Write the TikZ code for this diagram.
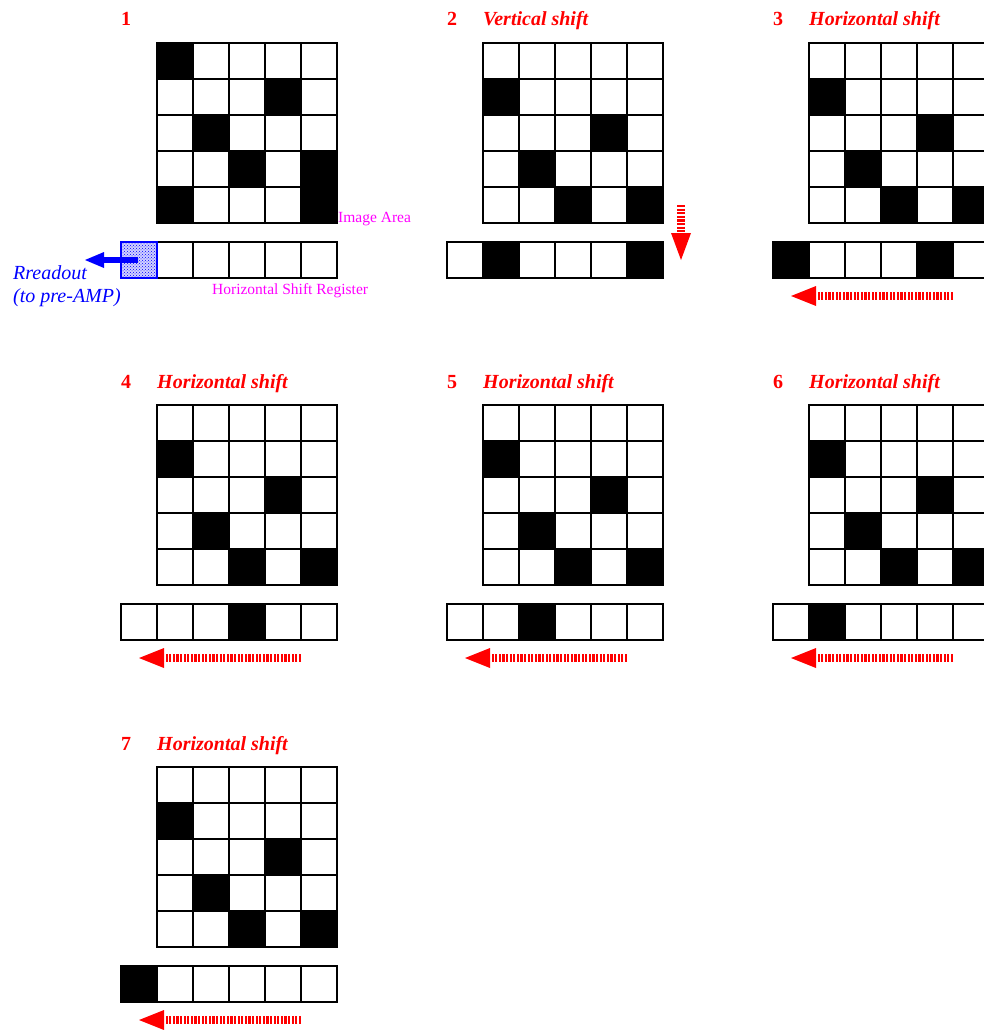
\documentclass[tikz,border=0pt]{standalone}
\usepackage{fontspec}
\setmainfont{Liberation Serif}
\usetikzlibrary{patterns,calc}
\definecolor{magpink}{RGB}{255,0,255}
\definecolor{pureblue}{RGB}{0,0,255}
\definecolor{purered}{RGB}{255,0,0}
\tikzset{
 cell/.style={draw=black,line width=1.2pt,minimum size=36pt,inner sep=0pt,outer sep=0pt,fill=white},
 blk/.style={cell,fill=black},
 bluecell/.style={cell,draw=pureblue,fill=pureblue!18,postaction={pattern=crosshatch dots,pattern color=pureblue}},
 redshaft/.style={draw=purered,line width=8pt,dash pattern=on 2.2pt off 1.4pt},
 blueshaft/.style={draw=pureblue,line width=6pt},
 numlab/.style={text=purered,font=\fontsize{20}{24}\selectfont\bfseries,anchor=base west,inner sep=0pt},
 titlab/.style={text=purered,font=\fontsize{20}{24}\selectfont\bfseries\itshape,anchor=base west,inner sep=0pt},
 maglab/.style={text=magpink,font=\fontsize{15.5}{18}\selectfont,anchor=base west,inner sep=0pt},
 bluelab/.style={text=pureblue,font=\fontsize{20}{24}\selectfont\itshape,anchor=base west,inner sep=0pt},
}
\newcommand\ccdpanel[7]{%
 \begin{scope}[shift={(#2,#3)}]
  \foreach \r in {0,...,4}{\foreach \c in {0,...,4}{\node[cell] (#1-\r-\c) at ({\c*36+18},{\r*36+18}) {};}}
  \foreach \r/\c in {#6}{\node[blk] (#1-\r-\c) at ({\c*36+18},{\r*36+18}) {};}
  \foreach \c in {0,...,5}{\node[cell] (#1-s\c) at ({\c*36-18},217) {};}
  \foreach \c in {#7}{\node[blk] (#1-s\c) at ({\c*36-18},217) {};}
  \node[numlab] (#1-num) at (-36,-17) {#4};
  \node[titlab] (#1-title) at (0,-17) {#5};
 \end{scope}}
\newcommand\harrow[3]{%
 \begin{scope}[shift={(#2,#3)}]
  \coordinate (#1-tail) at (144,253);
  \coordinate (#1-base) at (6,253);
  \coordinate (#1-tip) at (-18,253);
  \draw[redshaft] (#1-tail) -- (#1-base);
  \fill[purered] (#1-tip) -- ($(#1-base)+(1,-10)$) -- ($(#1-base)+(1,10)$) -- cycle;
 \end{scope}}
\begin{document}
\begin{tikzpicture}[x=1pt,y=-1pt]
\useasboundingbox (0,0) rectangle (983,1030);
% row 1
\ccdpanel{P1}{157}{43}{1}{}{0/0,1/3,2/1,3/2,3/4,4/0,4/4}{0}
\ccdpanel{P2}{483}{43}{2}{Vertical shift}{1/0,2/3,3/1,4/2,4/4}{1,5}
\ccdpanel{P3}{809}{43}{3}{Horizontal shift}{1/0,2/3,3/1,4/2,4/4}{0,4}
% row 2
\ccdpanel{P4}{157}{405}{4}{Horizontal shift}{1/0,2/3,3/1,4/2,4/4}{3}
\ccdpanel{P5}{483}{405}{5}{Horizontal shift}{1/0,2/3,3/1,4/2,4/4}{2}
\ccdpanel{P6}{809}{405}{6}{Horizontal shift}{1/0,2/3,3/1,4/2,4/4}{1}
% row 3
\ccdpanel{P7}{157}{767}{7}{Horizontal shift}{1/0,2/3,3/1,4/2,4/4}{0}
% panel 1 extras
\begin{scope}[shift={(157,43)}]
 \node[bluecell] (P1-s0) at (-18,217) {};
 \coordinate (P1-btail) at (-19,217);
 \coordinate (P1-bbase) at (-53,217);
 \coordinate (P1-btip) at (-72,217);
 \draw[blueshaft] (P1-btail) -- (P1-bbase);
 \fill[pureblue] (P1-btip) -- ($(P1-bbase)+(0,-8)$) -- ($(P1-bbase)+(0,8)$) -- cycle;
 \node[maglab] (P1-img) at (181,179) {Image Area};
 \node[maglab] (P1-hsr) at (55,251) {Horizontal Shift Register};
 \node[bluelab] (P1-ro1) at (-144,236) {Rreadout};
 \node[bluelab] (P1-ro2) at (-144,259) {(to pre-AMP)};
\end{scope}
% panel 2 vertical arrow
\begin{scope}[shift={(483,43)}]
 \coordinate (P2-tail) at (198,162);
 \coordinate (P2-base) at (198,190);
 \coordinate (P2-tip) at (198,217);
 \draw[redshaft] (P2-tail) -- ($(P2-base)+(0,1)$);
 \fill[purered] (P2-tip) -- ($(P2-base)+(-10,0)$) -- ($(P2-base)+(10,0)$) -- cycle;
\end{scope}
\harrow{P3}{809}{43}
\harrow{P4}{157}{405}
\harrow{P5}{483}{405}
\harrow{P6}{809}{405}
\harrow{P7}{157}{767}
\end{tikzpicture}
\end{document}
